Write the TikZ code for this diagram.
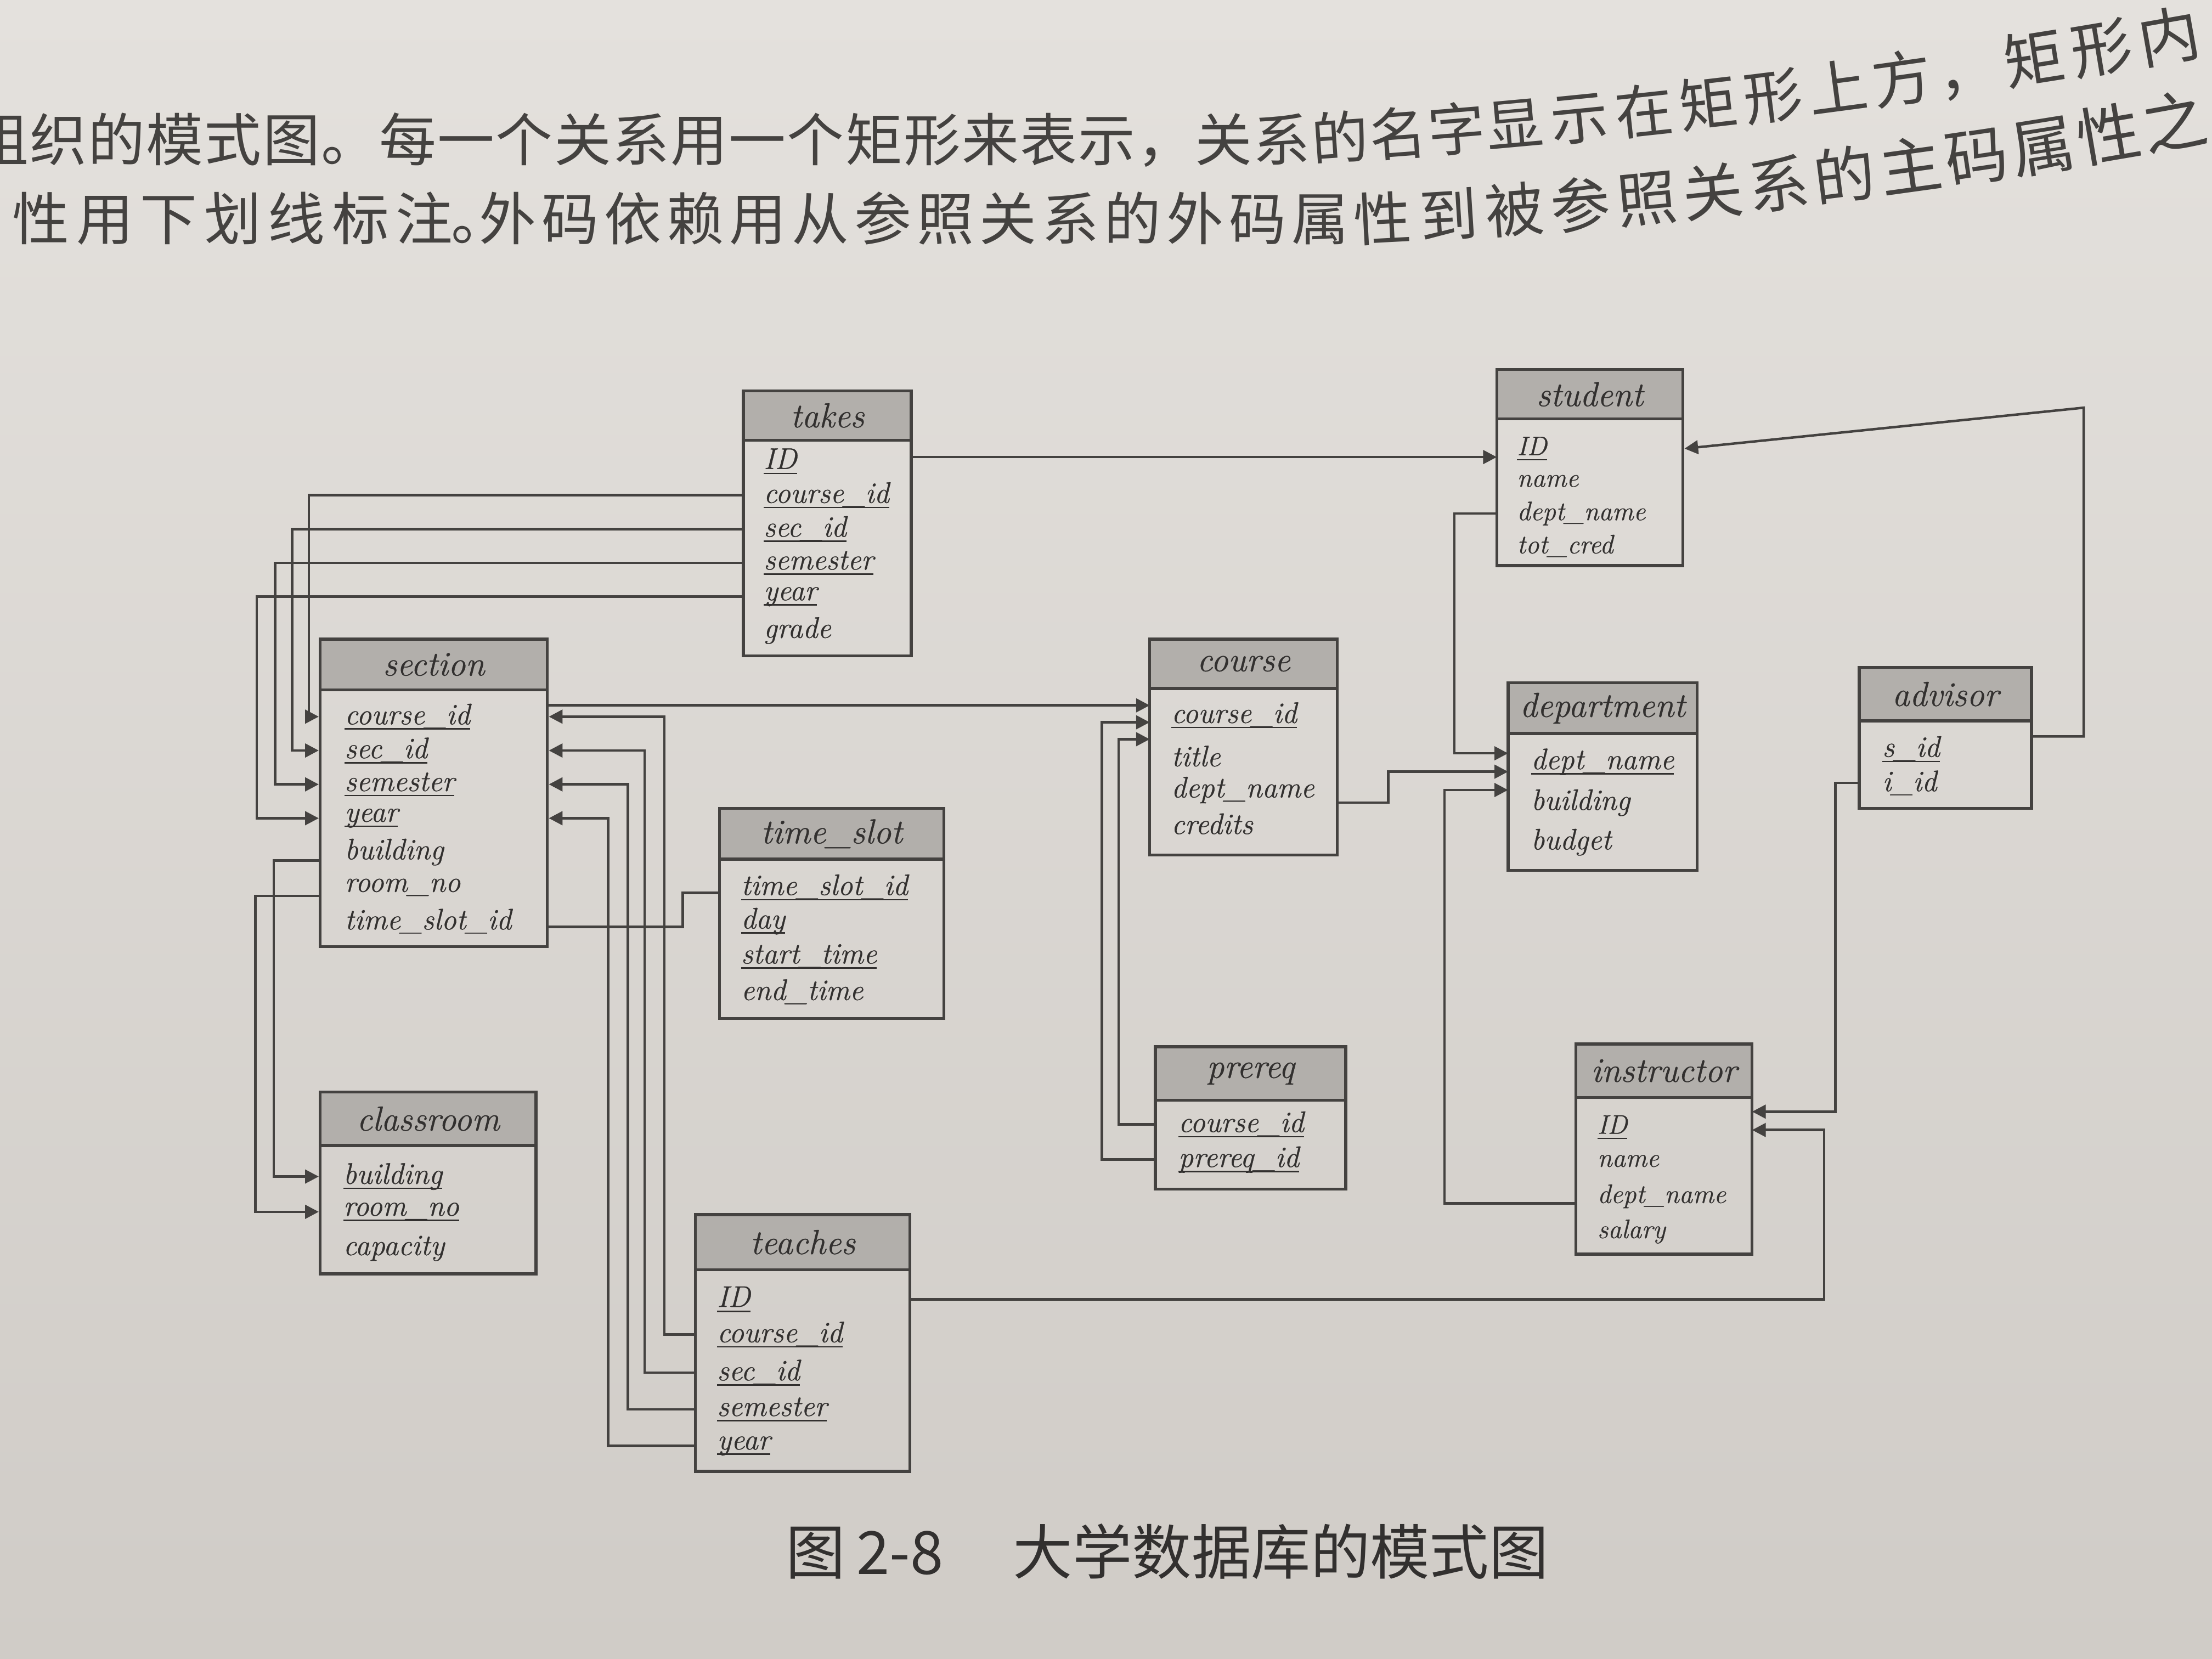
\documentclass[tikz,border=0pt]{standalone}
\usepackage{fontspec}
\newfontfamily\cjk{Noto Sans CJK SC}
\newfontfamily\attrit{lmroman12-italic.otf}[FakeBold=0.7]
\usetikzlibrary{arrows.meta,fit,calc}
\definecolor{paperA}{RGB}{228,225,221}
\definecolor{paperB}{RGB}{208,204,199}
\definecolor{inkc}{RGB}{68,66,64}
\definecolor{txtc}{RGB}{50,48,47}
\definecolor{hdrc}{RGB}{178,175,171}
\definecolor{cjkc}{RGB}{68,66,64}
\newcommand\reltable[7]{%
  \node[hdrbox, fit={(#2,#4) (#3,#5)}] (#1-h) {};
  \node[bodybox, fit={(#2,#5) (#3,#6)}] (#1) {};
  \node[ttl] (#1-t) at (#1-h.center) {#7};
}
\newcommand\pk[1]{\setbox0=\hbox{#1}\rlap{\rule[-2.1pt]{\wd0}{0.55pt}}\box0}
\begin{document}
\begin{tikzpicture}[x=0.02cm,y=-0.02cm,
  hdrbox/.style={draw=inkc, line width=1.2pt, fill=hdrc, inner sep=0pt},
  bodybox/.style={draw=inkc, line width=1.2pt, inner sep=0pt},
  ttl/.style={font=\attrit\fontsize{14}{16}\selectfont, text=txtc, inner sep=0pt},
  attr/.style={font=\attrit\fontsize{12}{14}\selectfont, text=txtc, anchor=west, inner sep=0pt},
  sattr/.style={attr, font=\attrit\fontsize{10.8}{13}\selectfont},
  fk/.style={draw=inkc, line width=1pt, -{Triangle[length=5.5pt,width=5.5pt]}},
  plain/.style={draw=inkc, line width=1pt},
  cjkch/.style={font=\cjk\fontsize{23}{23}\selectfont, text=cjkc, inner sep=0pt, text height=19pt, text depth=4pt},
  captext/.style={font=\cjk\fontsize{24}{24}\selectfont, text=txtc, inner sep=0pt, text height=20pt, text depth=4pt}]

\useasboundingbox (0,0) rectangle (1568,1176);
\clip (0,0) rectangle (1568,1176);
\shade[top color=paperA, bottom color=paperB] (0,0) rectangle (1568,1176);

% ---- running text at the top (page curves up to the right)
\foreach \ch [count=\i] in {组,织,的,模,式,图,。,每,一,个,关,系,用,一,个,矩,形,来,表,示,，,关,系,的,名,字,显,示,在,矩,形,上,方,，,矩,形,内}{
  \pgfmathsetmacro\xx{41.3*(\i-1)+4.5*max(0,\i-27)+2*max(0,\i-34)}
  \pgfmathsetmacro\dd{max(0,\xx-930)}
  \pgfmathsetmacro\yy{101-0.0648*\dd-0.000095*\dd*\dd}
  \pgfmathsetmacro\rr{(\dd>0)*atan(0.0648+0.00019*\dd)}
  \pgfmathsetmacro\ss{1+0.008*max(0,\i-27)}
  \node[cjkch, rotate=\rr, scale=\ss] (ta-\i) at (\xx,\yy) {\ch};
}
\foreach \ch [count=\i] in {性,用,下,划,线,标,注,。,外,码,依,赖,用,从,参,照,关,系,的,外,码,属,性,到,被,参,照,关,系,的,主,码,属,性,之}{
  \pgfmathsetmacro\xx{(\i<8)*(29+45.3*(\i-1))+(\i==8)*340+(\i>8)*(360+44.3*(\i-9)+2.5*max(0,\i-23))}
  \pgfmathsetmacro\dd{max(0,\xx-980)}
  \pgfmathsetmacro\yy{157-0.053*\dd-0.000118*\dd*\dd}
  \pgfmathsetmacro\rr{(\dd>0)*atan(0.053+0.000236*\dd)}
  \pgfmathsetmacro\ss{1+0.01*max(0,\i-22)}
  \node[cjkch, rotate=\rr, scale=\ss] (tb-\i) at (\xx,\yy) {\ch};
}

% ---- relations
\reltable{takes}{527}{646}{277}{312}{465}{takes}
\node[attr] (takes-ID)  at (541,327) {\pk{ID}};
\node[attr] (takes-cid) at (541,351) {\pk{course\_id}};
\node[attr] (takes-sid) at (541,375) {\pk{sec\_id}};
\node[attr] (takes-sem) at (541,399) {\pk{semester}};
\node[attr] (takes-yr)  at (541,423) {\pk{year}};
\node[attr] (takes-gr)  at (541,447) {grade};

\reltable{student}{1061}{1193}{262}{297}{401}{student}
\node[sattr] (stu-ID) at (1075,318) {\pk{ID}};
\node[sattr] (stu-nm) at (1075,341) {name};
\node[sattr] (stu-dn) at (1075,364) {dept\_name};
\node[sattr] (stu-tc) at (1075,387) {tot\_cred};

\reltable{section}{227}{388}{453}{489}{671}{section}
\node[attr] (sec-cid) at (244,508) {\pk{course\_id}};
\node[attr] (sec-sid) at (244,532) {\pk{sec\_id}};
\node[attr] (sec-sem) at (244,556) {\pk{semester}};
\node[attr] (sec-yr)  at (244,580) {\pk{year}};
\node[attr] (sec-bu)  at (244,604) {building};
\node[attr] (sec-rn)  at (244,629) {room\_no};
\node[attr] (sec-ts)  at (244,653) {time\_slot\_id};

\reltable{course}{815}{948}{453}{488}{606}{course}
\node[attr] (crs-cid) at (830,507) {\pk{course\_id}};
\node[attr] (crs-ti)  at (830,536) {title};
\node[attr] (crs-dn)  at (830,560) {dept\_name};
\node[attr] (crs-cr)  at (830,584) {credits};

\reltable{department}{1069}{1203}{484}{520}{617}{department}
\node[attr] (dep-dn) at (1085,540) {\pk{dept\_name}};
\node[attr] (dep-bu) at (1085,569) {building};
\node[attr] (dep-bg) at (1085,597) {budget};

\reltable{advisor}{1318}{1440}{473}{511}{573}{advisor}
\node[attr] (adv-sid) at (1334,531) {\pk{s\_id}};
\node[attr] (adv-iid) at (1334,555) {i\_id};

\reltable{timeslot}{510}{669}{573}{609}{722}{time\_slot}
\node[attr] (ts-id)  at (525,629) {\pk{time\_slot\_id}};
\node[attr] (ts-day) at (525,653) {\pk{day}};
\node[attr] (ts-st)  at (525,678) {\pk{start\_time}};
\node[attr] (ts-et)  at (525,703) {end\_time};

\reltable{prereq}{819}{954}{742}{780}{843}{prereq}
\node[attr] (pre-cid) at (835,797) {\pk{course\_id}};
\node[attr] (pre-pid) at (835,822) {\pk{prereq\_id}};

\reltable{instructor}{1117}{1242}{740}{778}{889}{instructor}
\node[sattr] (ins-ID)  at (1132,799) {\pk{ID}};
\node[sattr] (ins-nm)  at (1132,823) {name};
\node[sattr] (ins-dn)  at (1132,848) {dept\_name};
\node[sattr] (ins-sal) at (1132,873) {salary};

\reltable{classroom}{227}{380}{774}{812}{903}{classroom}
\node[attr] (cls-bu)  at (243,834) {\pk{building}};
\node[attr] (cls-rn)  at (243,859) {\pk{room\_no}};
\node[attr] (cls-cap) at (243,885) {capacity};

\reltable{teaches}{493}{645}{861}{900}{1043}{teaches}
\node[attr] (tea-ID)  at (508,921) {\pk{ID}};
\node[attr] (tea-cid) at (508,946) {\pk{course\_id}};
\node[attr] (tea-sid) at (508,973) {\pk{sec\_id}};
\node[attr] (tea-sem) at (508,999) {\pk{semester}};
\node[attr] (tea-yr)  at (508,1025) {\pk{year}};

% ---- lanes and entry points
\coordinate (lnA) at (219,0);  \coordinate (lnB) at (207,0);
\coordinate (lnC) at (195,0);  \coordinate (lnD) at (182,0);
\coordinate (lnBu) at (194,0); \coordinate (lnRo) at (181,0);
\coordinate (lnE1) at (471,0); \coordinate (lnE2) at (457,0);
\coordinate (lnE3) at (445,0); \coordinate (lnE4) at (431,0);
\coordinate (lnTS) at (484,0);
\coordinate (lnP1) at (793,0); \coordinate (lnP2) at (781,0);
\coordinate (lnCD) at (984,0);
\coordinate (lnSD) at (1031,0); \coordinate (lnID) at (1024,0);
\coordinate (lnAI) at (1301,0); \coordinate (lnTI) at (1293,0);
\coordinate (advR) at (1477,289);
\coordinate (stu-in)  at (1061,324);
\coordinate (crs-in1) at (815,500);
\coordinate (crs-in2) at (815,512);
\coordinate (crs-in3) at (815,524);
\coordinate (dep-in1) at (1069,534);
\coordinate (dep-in2) at (1069,547);
\coordinate (dep-in3) at (1069,560);
\coordinate (ins-in1) at (1242,788);
\coordinate (ins-in2) at (1242,801);

% ---- foreign keys
\draw[fk] (stu-in -| takes.east) -- (stu-in);
\draw[fk] (takes-cid -| takes.west) -- (takes-cid -| lnA) -- (sec-cid -| lnA) -- (sec-cid -| section.west);
\draw[fk] (takes-sid -| takes.west) -- (takes-sid -| lnB) -- (sec-sid -| lnB) -- (sec-sid -| section.west);
\draw[fk] (takes-sem -| takes.west) -- (takes-sem -| lnC) -- (sec-sem -| lnC) -- (sec-sem -| section.west);
\draw[fk] (takes-yr -| takes.west) -- (takes-yr -| lnD) -- (sec-yr -| lnD) -- (sec-yr -| section.west);
\draw[fk] ($(sec-bu -| section.west)+(0,6)$) -- ($(sec-bu -| lnBu)+(0,6)$) -- (cls-bu -| lnBu) -- (cls-bu -| classroom.west);
\draw[fk] ($(sec-rn -| section.west)+(0,6)$) -- ($(sec-rn -| lnRo)+(0,6)$) -- (cls-rn -| lnRo) -- (cls-rn -| classroom.west);
\draw[fk] (crs-in1 -| section.east) -- (crs-in1);
\draw[fk] (tea-cid -| teaches.west) -- (tea-cid -| lnE1) -- (sec-cid -| lnE1) -- (sec-cid -| section.east);
\draw[fk] (tea-sid -| teaches.west) -- (tea-sid -| lnE2) -- (sec-sid -| lnE2) -- (sec-sid -| section.east);
\draw[fk] (tea-sem -| teaches.west) -- (tea-sem -| lnE3) -- (sec-sem -| lnE3) -- (sec-sem -| section.east);
\draw[fk] (tea-yr -| teaches.west) -- (tea-yr -| lnE4) -- (sec-yr -| lnE4) -- (sec-yr -| section.east);
\draw[plain] ($(sec-ts -| section.east)+(0,4)$) -- ($(sec-ts -| lnTS)+(0,4)$) -- ($(ts-id -| lnTS)+(0,4)$) -- ($(ts-id -| timeslot.west)+(0,4)$);
\draw[fk] (pre-cid -| prereq.west) -- (pre-cid -| lnP1) -- (crs-in3 -| lnP1) -- (crs-in3);
\draw[fk] (pre-pid -| prereq.west) -- (pre-pid -| lnP2) -- (crs-in2 -| lnP2) -- (crs-in2);
\draw[fk] ($(crs-dn -| course.east)+(0,9)$) -- ($(crs-dn -| lnCD)+(0,9)$) -- (dep-in2 -| lnCD) -- (dep-in2);
\draw[fk] (stu-dn -| student.west) -- (stu-dn -| lnSD) -- (dep-in1 -| lnSD) -- (dep-in1);
\draw[fk] ($(ins-dn -| instructor.west)+(0,5)$) -- ($(ins-dn -| lnID)+(0,5)$) -- (dep-in3 -| lnID) -- (dep-in3);
\draw[fk] ($(adv-sid -| advisor.east)+(0,-9)$) -- ($(adv-sid -| advR)+(0,-9)$) -- (advR) -- (stu-ID -| student.east);
\draw[fk] (adv-iid -| advisor.west) -- (adv-iid -| lnAI) -- (ins-in1 -| lnAI) -- (ins-in1);
\draw[fk] (tea-ID -| teaches.east) -- (tea-ID -| lnTI) -- (ins-in2 -| lnTI) -- (ins-in2);

% ---- caption
\node[captext] (cap1) at (578,1102) {图};
\node[captext, anchor=west] (cap2) at (607,1102) {2-8};
\node[captext] (cap3) at (908,1102) {大学数据库的模式图};
\end{tikzpicture}
\end{document}
